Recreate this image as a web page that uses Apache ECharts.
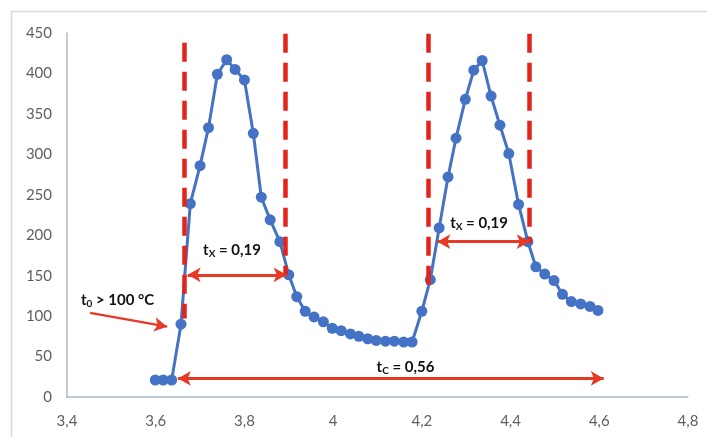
<!DOCTYPE html>
<html>
<head>
<meta charset="utf-8">
<script src="https://cdn.jsdelivr.net/npm/echarts@6/dist/echarts.min.js"></script>
<style>
  html, body { margin: 0; padding: 0; background: #fff; }
  #chart { width: 707px; height: 437px; }
</style>
</head>
<body>
<div id="chart"></div>
<script>
// Measured surface temperature over time (s, °C)
const timeS = [
  3.599, 3.617, 3.636, 3.657, 3.678, 3.700, 3.719, 3.739, 3.760, 3.779,
  3.800, 3.820, 3.838, 3.858, 3.880, 3.900, 3.918, 3.937, 3.957, 3.978,
  3.998, 4.018, 4.039, 4.058, 4.078, 4.097, 4.118, 4.138, 4.159, 4.178,
  4.200, 4.219, 4.239, 4.259, 4.277, 4.298, 4.317, 4.336, 4.356, 4.376,
  4.396, 4.418, 4.439, 4.457, 4.477, 4.498, 4.517, 4.537, 4.558, 4.579,
  4.597
];
const tempC = [
  21, 21, 21, 90, 239, 286, 333, 399, 417, 405,
  392, 326, 247, 219, 192, 151, 124, 106, 99, 93,
  85, 82, 78, 75, 72, 70, 69, 69, 68, 68,
  106, 145, 209, 272, 320, 368, 404, 416, 372, 336,
  301, 238, 192, 161, 152, 144, 127, 118, 115, 112,
  107
];

// Axis tick labels (decimal comma)
const xTickLabels = ['3,4', '3,6', '3,8', '4', '4,2', '4,4', '4,6', '4,8'];
const yTickLabels = ['0', '50', '100', '150', '200', '250', '300', '350', '400', '450'];

// Cycle boundaries: [time, lower temp, upper temp]
const boundaryLines = [
  [3.664, 438, 97],
  [3.891, 449, 151],
  [4.215, 449, 128],
  [4.442, 449, 190]
];

// Duration arrows: [start time, end time, temp level]
const durationArrows = [
  [3.672, 3.895, 151],
  [4.235, 4.443, 192],
  [3.650, 4.610, 23]
];

// Pointer from the onset note to the first hot sample
const onsetPointer = [[3.452, 104], [3.626, 87]];

// Annotation texts: [time, temp, rich text]
const notes = [
  [3.514, 120, '{t|t}{s|0}{t| > 100 °C}'],
  [3.772, 182, '{t|t}{s|X}{t| = 0,19}'],
  [4.329, 215, '{t|t}{s|X}{t| = 0,19}'],
  [4.163, 37, '{t|t}{s|C}{t| = 0,56}']
];

const red = '#e5231b';
const arrowRed = '#e63a26';
const blue = '#4472c4';
const axisCol = '#a9bccb';
const labelCol = '#5f5f5f';
const fontFam = 'Lato, "Open Sans", sans-serif';

const seriesData = timeS.map((t, i) => [t, tempC[i]]);

const dashedLines = boundaryLines.map(b => [
  { coord: [b[0], b[1]] },
  { coord: [b[0], b[2]] }
]);
const arrowLines = durationArrows.map(a => [
  { coord: [a[0], a[2]] },
  { coord: [a[1], a[2]] }
]);

const chart = echarts.init(document.getElementById('chart'), null, { renderer: 'canvas' });

chart.setOption({
  animation: false,
  backgroundColor: '#ffffff',
  grid: { left: 67, right: 19, top: 33, bottom: 40, containLabel: false },
  graphic: [{
    type: 'rect',
    shape: { x: 11.5, y: 11.5, width: 720, height: 440 },
    style: { fill: 'none', stroke: '#d9d9d9', lineWidth: 1.5 },
    silent: true,
    z: -1
  }],
  xAxis: {
    type: 'value',
    min: 3.4,
    max: 4.8,
    interval: 0.2,
    splitLine: { show: false },
    axisTick: { show: false },
    axisLine: { show: true, lineStyle: { color: axisCol, width: 1.5 } },
    axisLabel: {
      color: labelCol,
      fontFamily: fontFam,
      fontSize: 15,
      margin: 17,
      formatter: v => xTickLabels[Math.round((v - 3.4) / 0.2)]
    }
  },
  yAxis: {
    type: 'value',
    min: 0,
    max: 450,
    interval: 50,
    splitLine: { show: false },
    axisTick: { show: false },
    axisLine: { show: true, lineStyle: { color: axisCol, width: 1.5 } },
    axisLabel: {
      color: labelCol,
      fontFamily: fontFam,
      fontSize: 15,
      margin: 15,
      formatter: v => yTickLabels[Math.round(v / 50)]
    }
  },
  series: [
    {
      type: 'line',
      data: seriesData,
      symbol: 'circle',
      symbolSize: 11,
      itemStyle: { color: blue },
      lineStyle: { color: blue, width: 3 },
      z: 3
    },
    {
      // boundaries of the heating windows
      type: 'line',
      data: [],
      markLine: {
        silent: true,
        symbol: ['none', 'none'],
        label: { show: false },
        lineStyle: { color: red, width: 4.5, type: [19, 10] },
        data: dashedLines
      },
      z: 2
    },
    {
      // duration arrows
      type: 'line',
      data: [],
      markLine: {
        silent: true,
        symbol: ['arrow', 'arrow'],
        symbolSize: [11, 13],
        label: { show: false },
        lineStyle: { color: arrowRed, width: 3, type: 'solid' },
        data: arrowLines
      },
      z: 4
    },
    {
      // onset pointer
      type: 'line',
      data: [],
      markLine: {
        silent: true,
        symbol: ['none', 'arrow'],
        symbolSize: [11, 13],
        label: { show: false },
        lineStyle: { color: arrowRed, width: 2.5, type: 'solid' },
        data: [[{ coord: onsetPointer[0] }, { coord: onsetPointer[1] }]]
      },
      z: 4
    },
    {
      // text notes
      type: 'line',
      data: [],
      markPoint: {
        silent: true,
        symbol: 'circle',
        symbolSize: 0,
        label: {
          show: true,
          position: 'inside',
          rich: {
            t: { fontFamily: fontFam, fontWeight: 'bold', fontSize: 15, color: '#111', lineHeight: 20 },
            s: { fontFamily: fontFam, fontWeight: 'bold', fontSize: 10, color: '#111', lineHeight: 20, padding: [8, 0, 0, 0] }
          }
        },
        data: notes.map(n => ({ coord: [n[0], n[1]], label: { formatter: n[2] } }))
      },
      z: 5
    }
  ]
});
</script>
</body>
</html>
